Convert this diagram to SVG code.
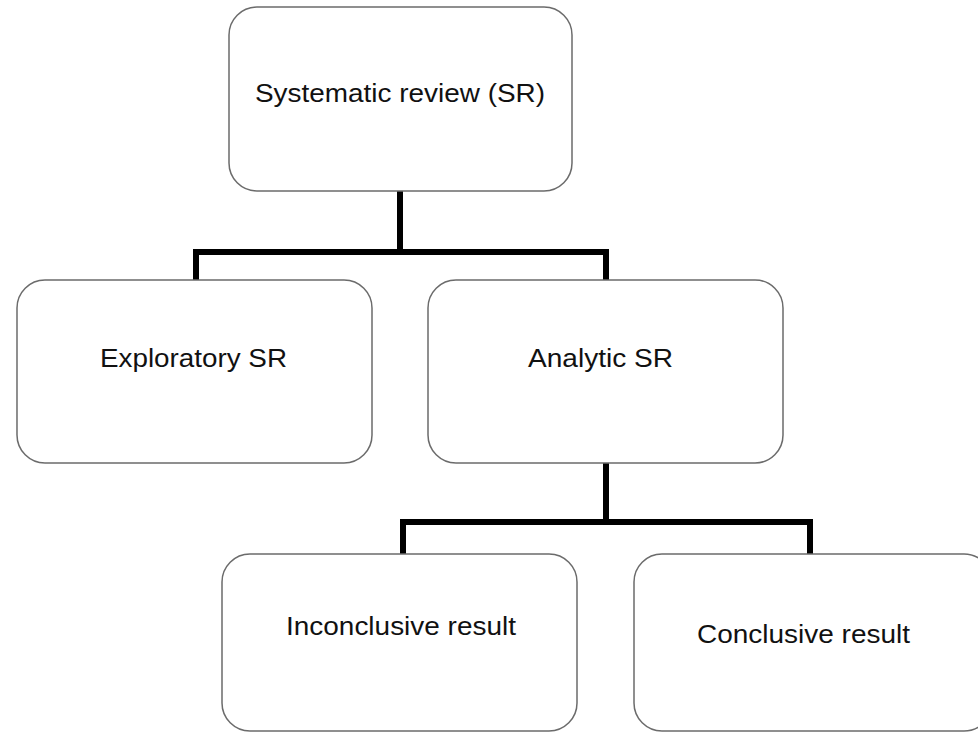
<svg xmlns="http://www.w3.org/2000/svg" width="978" height="733" viewBox="0 0 978 733">
<style>
.box{fill:#fff;stroke:#6b6b6b;stroke-width:1.5}
.lbl{font-family:"Liberation Sans",Arial,sans-serif;font-size:26px;fill:#111;text-anchor:start}
.conn{fill:none;stroke:#000;stroke-width:6;stroke-linejoin:miter;stroke-linecap:butt}
</style>
<rect width="978" height="733" fill="#fff"/>
<g id="connectors">
<path class="conn" d="M400 191 V252 M196 280 V252 H606 V280"/>
<path class="conn" d="M606 463 V522 M403 554 V522 H810 V554"/>
</g>
<g id="node-sr">
<rect class="box" x="229" y="7" width="343" height="184" rx="28"/>
<text class="lbl" x="255" y="102" textLength="290" lengthAdjust="spacingAndGlyphs">Systematic review (SR)</text>
</g>
<g id="node-exploratory">
<rect class="box" x="17" y="280" width="355" height="183" rx="28"/>
<text class="lbl" x="100" y="367" textLength="187" lengthAdjust="spacingAndGlyphs">Exploratory SR</text>
</g>
<g id="node-analytic">
<rect class="box" x="428" y="280" width="355" height="183" rx="28"/>
<text class="lbl" x="528" y="367" textLength="145" lengthAdjust="spacingAndGlyphs">Analytic SR</text>
</g>
<g id="node-inconclusive">
<rect class="box" x="222" y="554" width="355" height="177" rx="28"/>
<text class="lbl" x="286" y="635" textLength="230" lengthAdjust="spacingAndGlyphs">Inconclusive result</text>
</g>
<g id="node-conclusive">
<rect class="box" x="634" y="554" width="358" height="177" rx="28"/>
<text class="lbl" x="697" y="643" textLength="213" lengthAdjust="spacingAndGlyphs">Conclusive result</text>
</g>
</svg>
